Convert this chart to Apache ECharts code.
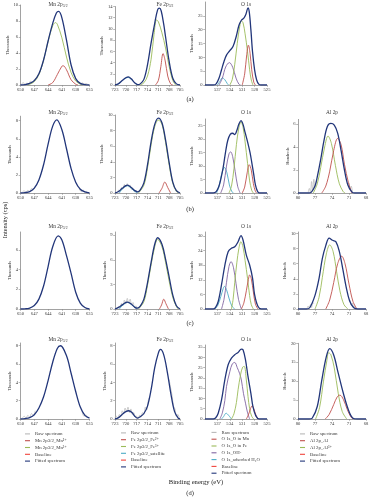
<!DOCTYPE html>
<html>
<head>
<meta charset="utf-8">
<script src="https://cdn.jsdelivr.net/npm/echarts@6/dist/echarts.min.js"></script>
<style>
  html, body { margin: 0; padding: 0; background: #fff; }
  #chart { width: 375px; height: 500px; }
</style>
</head>
<body>
<div id="chart"></div>
<script>
var FONT = '"Liberation Serif", "DejaVu Serif", serif';

// x tick labels (binding energy, eV)
var mnTicks = [650, 647, 644, 641, 638, 635];
var feTicks = [723, 720, 717, 714, 711, 708, 705];
var oTicks = [537, 534, 531, 528, 525];
var alTicks = [80, 77, 74, 71, 68];

// y tick labels per panel
var yMnA = [0, 2, 4, 6, 8, 10], yFeA = [0, 2, 4, 6, 8, 10, 12, 14], yOA = [0, 5, 10, 15, 20, 25];
var yMnB = [0, 2, 4, 6, 8], yFeB = [0, 2, 4, 6, 8, 10], yOB = [0, 5, 10, 15, 20, 25], yAlB = [0, 2, 4, 6];
var yMnC = [0, 2, 4, 6], yFeC = [0, 3, 6, 9], yOC = [0, 6, 12, 18, 24, 30], yAlC = [0, 2, 4, 6, 8, 10];
var yMnD = [0, 2, 4, 6, 8], yFeD = [0, 2, 4, 6, 8], yOD = [0, 5, 10, 15, 20, 25, 30, 35], yAlD = [0, 5, 10, 15, 20];

// ---- (a) ----
var mnA_raw = [[649.8,0.1],[649.4,0.3],[649,0.05],[648.6,0.25],[648.2,0.1],[647.8,0.5],[647.4,0.3],[647,0.7],[646.6,0.8],[646.5,'-'],[637.4,0.5],[637,0.1],[636.6,0.3],[636.2,0.05],[635.8,0.2],[635.4,0.1]];
var mnA_fit = [[650,0],[649,0.05],[648,0.2],[647,0.55],[646,1.4],[645,3.1],[644,5.5],[643,7.7],[642.2,9.0],[641.7,9.2],[641,8.4],[640,5.6],[639,2.5],[638,0.8],[637,0.2],[636,0.05],[635,0]];
var mnA_mn3 = [[648.5,0],[648,0.1],[647,0.42],[646,1.3],[645,3.05],[644,5.45],[643,7.4],[642.4,7.8],[642,7.6],[641,5.9],[640,3.5],[639,1.55],[638,0.5],[637,0.1],[636.5,0]];
var mnA_mn2 = [[644,0],[643,0.3],[642,1.3],[641,2.35],[640.7,2.4],[640,1.9],[639,0.65],[638,0.1],[637.5,0]];

var feA_fit = [[723,0],[722,0.25],[721,0.8],[720,1.3],[719.3,1.45],[718.5,1.1],[717.5,0.35],[716.7,0.05],[716,0.2],[715,1.0],[714,3.6],[713,7.5],[712,11.0],[711.2,13.4],[710.7,13.7],[710.2,13.2],[709.5,10.8],[709,8.6],[708,4.2],[707,1.2],[706,0.2],[705,0]];
var feA_fe3 = [[716,0],[715,0.4],[714,1.6],[713,4.6],[712.2,9.0],[711.5,11.6],[711,11.3],[710,9.3],[709,6.6],[708,3.3],[707,0.8],[706.2,0]];
var feA_fe2 = [[711.8,0],[711,0.8],[710.3,3.3],[709.7,5.6],[709.1,4.3],[708.4,1.6],[707.6,0.2],[707,0]];
var feA_sat = [[722.5,0],[721.5,0.45],[720.5,1.05],[719.4,1.35],[718.4,0.95],[717.4,0.3],[716.6,0]];

var oA_fit = [[540,0],[538,0],[537.3,0.4],[536.6,2.5],[536,5.5],[535.4,8.5],[534.8,10.8],[534,12.4],[533.2,14.0],[532.4,17.8],[531.8,21.5],[531.2,23.4],[530.6,24.2],[530.1,25.6],[529.6,27.9],[529.3,26.5],[528.9,20],[528.5,12],[528,5.5],[527.5,1.8],[527,0.3],[526.5,0],[525,0]];
var oA_feO = [[534,0],[533.4,2],[532.8,7.5],[532.2,15],[531.6,21.2],[531.2,23.2],[530.8,22.5],[530.3,18.5],[529.7,12],[529.2,5.5],[528.8,1.8],[528.4,0]];
var oA_mnO = [[531,0],[530.4,4],[529.9,11],[529.5,14.4],[529.1,11.5],[528.7,5.5],[528.2,1],[527.8,0]];
var oA_oh = [[536.6,0],[535.8,2.5],[535,6.5],[534.1,8.1],[533.3,6.4],[532.5,2.5],[531.8,0.3],[531.4,0]];
var oA_h2o = [[537,0],[536.4,1.3],[535.8,2.6],[535.2,1.9],[534.6,0.5],[534.3,0]];

// ---- (b) ----
var mnB_raw = [[649.6,0.1],[649.2,0.25],[648.8,0.05],[648.4,0.3],[648,0.15],[647.6,0.5],[647.2,0.35],[646.8,0.75],[646.5,'-'],[637.2,0.5],[636.8,0.15],[636.4,0.35],[636,0.05],[635.6,0.2]];
var mnB_fit = [[650,0],[649,0.04],[648,0.16],[647,0.55],[646,1.45],[645,3.1],[644,5.4],[643,7.4],[642.1,8.1],[641,7.0],[640,4.9],[639,2.7],[638,1.2],[637,0.42],[636,0.12],[635,0]];

var feB_raw = [[722.4,0.1],[722,0.35],[721.6,0.2],[721.2,0.7],[720.8,0.5],[720.4,1.1],[720,0.75],[719.6,1.2],[719.2,0.8],[718.8,1.0],[718.4,0.45],[718,0.6],[717.6,0.15],[717.2,0.35],[716.8,0.05]];
var feB_fit = [[723,0],[722,0.2],[721,0.6],[720,0.95],[719.5,1.0],[718.5,0.7],[717.5,0.3],[716.7,0.15],[716,0.4],[715,1.3],[714,3.6],[713,6.6],[712,8.8],[711,9.6],[710,9.0],[709,6.8],[708,3.9],[707,1.4],[706,0.3],[705,0]];
var feB_fe3 = [[716.5,0],[715,1.0],[714,3.2],[713,6.2],[712,8.5],[711,9.35],[710,8.8],[709,6.5],[708,3.6],[707,1.25],[706,0.2],[705.5,0]];
var feB_fe2 = [[710.8,0],[710,0.6],[709.2,1.4],[708.4,0.7],[707.6,0]];
var feB_sat = [[721.8,0],[721,0.5],[720,0.88],[719.5,0.92],[718.5,0.6],[717.5,0.2],[716.8,0]];

var oB_fit = [[540,0],[538,0],[537.3,0.5],[536.7,2.2],[536.2,5],[535.6,9.5],[535,15.5],[534.5,19.5],[533.9,21.8],[533.3,22.2],[532.8,21.7],[532.3,23.2],[531.8,25.6],[531.3,26.9],[530.8,25.5],[530.3,22.5],[529.7,19],[529.1,15],[528.7,11.5],[528.2,6.8],[527.8,3],[527.3,0.6],[526.8,0],[525,0]];
var oB_feO = [[534.2,0],[533.6,2.5],[533,9],[532.4,18],[531.8,24.3],[531.3,26.4],[530.8,24.5],[530.3,19],[529.7,11],[529.2,4.5],[528.7,1],[528.3,0]];
var oB_mnO = [[531,0],[530.4,2.2],[529.8,7.5],[529.3,10.5],[528.8,8.5],[528.3,3.5],[527.8,0.6],[527.5,0]];
var oB_oh = [[536.2,0],[535.5,3],[534.8,10],[534.2,14.5],[533.8,15.3],[533.3,13.5],[532.7,8],[532.1,2.5],[531.5,0]];
var oB_h2o = [[537.2,0],[536.6,2.5],[536,6.8],[535.3,9.5],[534.7,7.5],[534.1,3],[533.5,0.5],[533.1,0]];

var alB_raw = [[78.2,0.05],[78,0.4],[77.8,0.05],[77.6,1.0],[77.4,0.2],[77.2,1.2],[77,0.5],[76.8,1.0],[76.6,'-'],[71,0.9],[70.8,0.3],[70.6,0.6],[70.4,0.1]];
var alB_fit = [[80,0],[78,0],[77.6,0.1],[77,0.6],[76.6,1.4],[76,2.9],[75.4,4.6],[74.8,5.8],[74.2,6.05],[73.6,5.9],[73,5.2],[72.4,3.7],[71.8,2.0],[71.2,0.7],[70.5,0.1],[70,0],[68,0]];
var alB_al3 = [[77.3,0],[76.6,0.8],[76,2.2],[75.3,4.0],[74.7,4.95],[74.1,4.3],[73.4,2.4],[72.7,0.8],[72,0.1],[71.7,0]];
var alB_al = [[75.8,0],[75.1,0.6],[74.4,1.9],[73.7,3.7],[73,4.75],[72.4,4.2],[71.8,2.5],[71.1,0.9],[70.5,0]];

// ---- (c) ----
var mnC_fit = [[650,0],[649,0.02],[648,0.1],[647,0.35],[646,1.0],[645,2.3],[644,4.3],[643,6.3],[641.8,7.4],[641,7.0],[640,5.4],[639,3.6],[638,1.7],[637,0.6],[636,0.15],[635,0]];

var feC_raw = [[722.5,0.1],[722,0.3],[721.6,0.15],[721.2,0.7],[720.8,0.4],[720.4,1.1],[720,0.6],[719.6,1.3],[719.2,0.7],[718.8,1.2],[718.4,0.5],[718,0.8],[717.6,0.2],[717.2,0.4],[716.8,0.05]];
var feC_fit = [[723,0],[722,0.2],[721,0.5],[720,0.8],[719.5,0.85],[718.5,0.6],[717.5,0.2],[716.8,0.1],[716,0.35],[715,1.2],[714,3.2],[713,5.7],[712,7.9],[711.2,8.7],[710,7.9],[709,6.1],[708,3.9],[707,1.7],[706,0.4],[705,0]];
var feC_fe3 = [[716.5,0],[715,0.9],[714,2.9],[713,5.4],[712,7.6],[711.2,8.5],[710,7.6],[709,5.7],[708,3.4],[707,1.4],[706,0.3],[705.5,0]];
var feC_fe2 = [[710.7,0],[710.1,0.5],[709.5,1.2],[708.9,0.65],[708.2,0]];
var feC_sat = [[721.8,0],[721,0.4],[720,0.75],[719.5,0.8],[718.5,0.55],[717.5,0.2],[716.8,0]];

var oC_fit = [[540,0],[538,0],[537.4,0.8],[536.8,3.1],[536,10],[535.2,18],[534.4,23.6],[533.6,25],[532.8,25.6],[532,27.7],[531.3,30.2],[530.8,28.4],[530,22.2],[529.2,18.1],[528.5,12.7],[528,5.9],[527.2,1.1],[526.4,0],[525,0]];
var oC_feO = [[533.6,0],[533.2,4],[532.8,11],[532.3,19],[531.8,25],[531.3,27.7],[530.8,25.5],[530.3,20],[529.7,12.5],[529.2,5.5],[528.8,1.8],[528.3,0]];
var oC_mnO = [[531.2,0],[530.6,2.5],[530,7.5],[529.5,12.2],[529.2,14],[528.8,12.5],[528.3,7],[527.8,2],[527.2,0]];
var oC_oh = [[536,0],[535.4,4],[534.8,11],[534.2,17.5],[533.7,19.5],[533.1,17],[532.5,10.5],[531.9,4],[531.2,0]];
var oC_h2o = [[537.6,0],[536.9,1.5],[536.2,5],[535.6,8.4],[535.3,9.3],[534.8,8],[534.2,4.5],[533.5,1.2],[532.8,0]];

var alC_raw = [[78.4,0.05],[78.2,0.4],[78,0.1],[77.8,0.6],[77.6,0.2],[77.4,0.9],[77.2,0.7],[77,'-'],[70.8,1.2],[70.6,0.5],[70.4,0.8],[70.2,0.2],[70,0.4],[69.8,0.05]];
var alC_fit = [[80,0],[78.5,0],[77.9,0.2],[77,1.8],[76.3,4],[75.7,6.7],[75.1,8.4],[74.5,9.4],[73.9,9.1],[73.3,8.9],[72.7,7.6],[72.1,5.3],[71.5,2.9],[70.9,1.1],[70.2,0.2],[69.5,0],[68,0]];
var alC_al3 = [[77,0],[76.3,1.5],[75.7,4.2],[75,7.3],[74.4,8.5],[73.8,7.6],[73.2,5],[72.6,2.4],[71.9,0.6],[71.2,0]];
var alC_al = [[75.1,0],[74.4,1.2],[73.7,3.5],[73,6],[72.3,7.0],[71.7,6],[71,3.3],[70.3,1.0],[69.6,0]];

// ---- (d) ----
var mnD_raw = [[649.6,0.1],[649.2,0.3],[648.8,0.1],[648.4,0.4],[648,0.2],[647.6,0.6],[647.2,0.4],[646.8,0.9],[646.5,'-'],[636.6,0.7],[636.2,0.3],[635.8,0.45],[635.4,0.1]];
var mnD_fit = [[650,0],[649,0.05],[648,0.16],[647,0.47],[646,1.2],[645,2.4],[644,4.2],[643,6.2],[642,7.7],[641.3,8.0],[640,6.9],[639,5.0],[638,3.0],[637,1.3],[636,0.4],[635,0.1]];

var feD_raw = [[723,0.1],[722.6,0.3],[722.2,0.1],[721.8,0.5],[721.4,0.3],[721,0.9],[720.6,0.6],[720.2,1.2],[719.8,0.8],[719.4,1.3],[719,0.7],[718.6,1.1],[718.2,0.5],[717.8,0.7],[717.4,0.2],[717,0.3],[716.6,0.05],[716.2,0.4],[715.8,0.2],[715.4,0.7],[715,0.5],[714.6,1.3],[714.2,1.0],[713.8,2.0],[713.4,2.4],[713,'-'],[708,4.3],[707.6,3.4],[707.2,2.6],[706.8,1.4],[706.4,1.1],[706,0.3],[705.6,0.5],[705.2,0.1]];
var feD_fit = [[723,0],[722,0.15],[721,0.5],[720,0.8],[719.2,0.9],[718.3,0.7],[717.5,0.3],[716.8,0.1],[716,0.25],[715,0.6],[714,1.4],[713,3.2],[712,5.6],[711,7.2],[710.4,7.6],[709.5,7.0],[708.5,5.1],[707.5,2.7],[706.5,0.8],[705.5,0.1],[705,0]];

var oD_fit = [[540,0],[538,0],[537.4,0.6],[536.8,2.8],[536,9.3],[535.2,19],[534.4,26.4],[533.6,29.6],[532.8,31.3],[532,32.4],[531.2,34],[530.8,33.7],[530.2,28.8],[529.6,20.7],[528.9,12.5],[528.4,6],[527.7,1.5],[526.9,0],[525,0]];
var oD_feO = [[533.6,0],[533,2.5],[532.4,8],[532,14.2],[531.4,21.5],[530.9,25.2],[530.5,25.6],[530,19],[529.6,11],[529.2,5],[528.7,1.3],[528.2,0]];
var oD_mnO = [[530,0],[529.5,2],[529,5],[528.6,6.4],[528.2,5],[527.7,2],[527.2,0]];
var oD_oh = [[536.4,0],[535.8,3],[535.2,9],[534.8,15.8],[534,23],[533.4,26.8],[532.8,27.5],[532.2,25],[531.6,22],[531.2,19],[530.7,12.5],[530.2,7.7],[529.7,3],[529.2,0]];
var oD_h2o = [[536,0],[535.5,1.2],[534.9,2.8],[534.3,1.8],[533.6,0]];

var alD_fit = [[80,0],[78,0],[77.5,0.2],[76.6,3.3],[75.8,10.3],[75,16.5],[74.4,18.6],[73.7,16.9],[72.9,12.1],[72,6.8],[71.1,2.4],[70.3,0.2],[69.5,0],[68,0]];
var alD_al3 = [[76.9,0],[76.2,3],[75.5,10],[74.9,15.5],[74.6,17.5],[74.2,17],[73.6,13.5],[72.9,6.8],[72.2,2],[71.4,0]];
var alD_al = [[75.2,0],[74.5,1.2],[73.7,3.8],[73.1,5.8],[72.6,6.3],[72,5.2],[71.3,2.5],[70.7,0.6],[70.3,0]];

// ---- layout ----
var COLOR = { raw: '#b8b8b8', red: '#c0504d', green: '#9bbb59', purple: '#8064a2', cyan: '#4bacc6', base: '#f0443c', fit: '#22367a' };
var WIDTH = { raw: 0.7, red: 0.9, green: 0.9, purple: 0.9, cyan: 0.9, base: 0.9, fit: 1.3 };

var cols = {
  mn: { left: 20.5, right: 89.5, min: 635, max: 650, ticks: mnTicks, title: 'Mn 2p', sub: '3/2', tx: 58, unit: 'Thousands',
        names: { raw: 'Raw spectrum', red: 'Mn 2p3/2_Mn\u00b2\u207a', green: 'Mn 2p3/2_Mn\u00b3\u207a', base: 'Baseline', fit: 'Fitted spectrum' },
        order: ['raw', 'red', 'green', 'base', 'fit'], lx: 25, ly: 430.5 },
  fe: { left: 115, right: 180, min: 705, max: 723, ticks: feTicks, title: 'Fe 2p', sub: '3/2', tx: 165, unit: 'Thousands',
        names: { raw: 'Raw spectrum', red: 'Fe 2p3/2_Fe\u00b2\u207a', green: 'Fe 2p3/2_Fe\u00b3\u207a', cyan: 'Fe 2p3/2_satellite', base: 'Baseline', fit: 'Fitted spectrum' },
        order: ['raw', 'red', 'green', 'cyan', 'base', 'fit'], lx: 121, ly: 429.5 },
  o:  { left: 205, right: 267, min: 525, max: 540, ticks: oTicks, title: 'O 1s', sub: '', tx: 246, unit: 'Thousands',
        names: { raw: 'Raw spectrum', red: 'O 1s_O in Mn', green: 'O 1s_O in Fe', purple: 'O 1s_OH-', cyan: 'O 1s_adsorbed H\u2082O', base: 'Baseline', fit: 'Fitted spectrum' },
        order: ['raw', 'red', 'green', 'purple', 'cyan', 'base', 'fit'], lx: 211.5, ly: 429 },
  al: { left: 298, right: 366, min: 68, max: 80, ticks: alTicks, title: 'Al 2p', sub: '', tx: 332, unit: 'Hundreds',
        names: { raw: 'Raw spectrum', red: 'Al 2p_Al', green: 'Al 2p_Al\u00b3\u207a', base: 'Baseline', fit: 'Fitted spectrum' },
        order: ['raw', 'red', 'green', 'base', 'fit'], lx: 300, ly: 430.5 }
};
var rows = { a: { zero: 85, ty: 4.5, label: '(a)', ly: 99 }, b: { zero: 193, ty: 113, label: '(b)', ly: 209 },
             c: { zero: 309, ty: 227, label: '(c)', ly: 323 }, d: { zero: 419, ty: 340, label: '(d)', ly: 493 } };

var panels = [
  { row: 'a', col: 'mn', top: 5, ymax: 10, yt: yMnA, curves: [[mnA_raw, 'raw'], [mnA_mn3, 'green'], [mnA_mn2, 'red'], [mnA_fit, 'fit']] },
  { row: 'a', col: 'fe', top: 6.5, ymax: 14, yt: yFeA, curves: [[feA_sat, 'cyan'], [feA_fe3, 'green'], [feA_fe2, 'red'], [feA_fit, 'fit']] },
  { row: 'a', col: 'o', top: 2, ymax: 30, yt: yOA, curves: [[oA_h2o, 'cyan'], [oA_oh, 'purple'], [oA_feO, 'green'], [oA_mnO, 'red'], [oA_fit, 'fit']] },
  { row: 'b', col: 'mn', top: 116.2, ymax: 8.5, yt: yMnB, curves: [[mnB_raw, 'raw'], [mnB_fit, 'fit']] },
  { row: 'b', col: 'fe', top: 115, ymax: 10, yt: yFeB, curves: [[feB_raw, 'raw'], [feB_sat, 'cyan'], [feB_fe3, 'green'], [feB_fe2, 'red'], [feB_fit, 'fit']] },
  { row: 'b', col: 'o', top: 119, ymax: 27.5, yt: yOB, curves: [[oB_h2o, 'cyan'], [oB_oh, 'purple'], [oB_feO, 'green'], [oB_mnO, 'red'], [oB_fit, 'fit']] },
  { row: 'b', col: 'al', top: 119.4, ymax: 6.4, yt: yAlB, curves: [[alB_raw, 'raw'], [alB_al3, 'green'], [alB_al, 'red'], [alB_fit, 'fit']] },
  { row: 'c', col: 'mn', top: 232, ymax: 7.8, yt: yMnC, curves: [[mnC_fit, 'fit']] },
  { row: 'c', col: 'fe', top: 232, ymax: 9.4, yt: yFeC, curves: [[feC_raw, 'raw'], [feC_sat, 'cyan'], [feC_fe3, 'green'], [feC_fe2, 'red'], [feC_fit, 'fit']] },
  { row: 'c', col: 'o', top: 232, ymax: 31.7, yt: yOC, curves: [[oC_h2o, 'cyan'], [oC_oh, 'purple'], [oC_feO, 'green'], [oC_mnO, 'red'], [oC_fit, 'fit']] },
  { row: 'c', col: 'al', top: 232, ymax: 10.2, yt: yAlC, curves: [[alC_raw, 'raw'], [alC_al3, 'green'], [alC_al, 'red'], [alC_fit, 'fit']] },
  { row: 'd', col: 'mn', top: 343, ymax: 8.3, yt: yMnD, curves: [[mnD_raw, 'raw'], [[], 'red'], [[], 'green'], [[], 'base'], [mnD_fit, 'fit']] },
  { row: 'd', col: 'fe', top: 343, ymax: 8.3, yt: yFeD, curves: [[feD_raw, 'raw'], [[], 'red'], [[], 'green'], [[], 'cyan'], [[], 'base'], [feD_fit, 'fit']] },
  { row: 'd', col: 'o', top: 345, ymax: 36, yt: yOD, curves: [[[], 'raw'], [oD_h2o, 'cyan'], [oD_oh, 'purple'], [oD_feO, 'green'], [oD_mnO, 'red'], [[], 'base'], [oD_fit, 'fit']] },
  { row: 'd', col: 'al', top: 343.3, ymax: 20, yt: yAlD, curves: [[[], 'raw'], [alD_al3, 'green'], [alD_al, 'red'], [[], 'base'], [alD_fit, 'fit']] }
];

var axisGray = '#8a8a8a';
var textGray = '#3a3a3a';
var grids = [], xAxes = [], yAxes = [], series = [], legends = [], graphics = [];

panels.forEach(function (p, i) {
  var c = cols[p.col], r = rows[p.row];
  grids.push({ left: c.left, top: p.top, width: c.right - c.left, height: r.zero - p.top, outerBoundsMode: 'none' });
  xAxes.push({
    type: 'value', gridIndex: i, inverse: true, min: c.min, max: c.max,
    axisLine: { onZero: false, lineStyle: { color: axisGray, width: 0.8 } },
    axisTick: { show: true, length: 1.8, customValues: c.ticks, lineStyle: { color: axisGray, width: 0.6 } },
    axisLabel: { customValues: c.ticks, fontSize: 4.6, fontFamily: FONT, color: textGray, margin: 2.2 },
    splitLine: { show: false }
  });
  yAxes.push({
    type: 'value', gridIndex: i, min: 0, max: p.ymax,
    name: c.unit, nameLocation: 'middle', nameGap: 7, nameRotate: 90,
    nameTextStyle: { fontSize: 4.4, fontFamily: FONT, color: textGray },
    axisLine: { show: true, lineStyle: { color: axisGray, width: 0.8 } },
    axisTick: { show: true, length: 1.8, customValues: p.yt, lineStyle: { color: axisGray, width: 0.6 } },
    axisLabel: { customValues: p.yt, fontSize: 4.6, fontFamily: FONT, color: textGray, margin: 2.4 },
    splitLine: { show: false }
  });
  p.curves.forEach(function (cv) {
    var kind = cv[1];
    series.push({
      type: 'line', name: c.names[kind], xAxisIndex: i, yAxisIndex: i, data: cv[0],
      smooth: 0.35, symbol: 'none', showSymbol: false, silent: true,
      z: kind === 'fit' ? 5 : (kind === 'raw' ? 2 : 3),
      lineStyle: { color: COLOR[kind], width: WIDTH[kind] },
      itemStyle: { color: COLOR[kind] }
    });
  });
  if (p.row === 'd') {
    legends.push({
      orient: 'vertical', left: c.lx, top: c.ly, padding: 0, itemGap: 0,
      icon: 'rect', itemWidth: 5, itemHeight: 1.1, selectedMode: false,
      textStyle: { fontSize: 4.8, lineHeight: 6.8, fontFamily: FONT, color: textGray },
      data: c.order.map(function (k) { return c.names[k]; })
    });
  }
});

// panel titles
Object.keys(cols).forEach(function (ck) {
  var c = cols[ck];
  Object.keys(rows).forEach(function (rk) {
    if (rk === 'a' && ck === 'al') return;
    graphics.push({
      type: 'text', x: c.tx, y: rows[rk].ty, silent: true,
      style: {
        text: '{m|' + c.title + '}' + (c.sub ? '{s|' + c.sub + '}' : ''),
        align: 'center', verticalAlign: 'middle',
        rich: {
          m: { fontSize: 5.4, fontFamily: FONT, fill: textGray, lineHeight: 6.5 },
          s: { fontSize: 3.7, fontFamily: FONT, fill: textGray, lineHeight: 6.5, verticalAlign: 'bottom' }
        }
      }
    });
  });
});
Object.keys(rows).forEach(function (rk) {
  graphics.push({ type: 'text', x: 190, y: rows[rk].ly, silent: true,
    style: { text: rows[rk].label, fontSize: 6.5, fontFamily: FONT, fill: '#222', align: 'center', verticalAlign: 'middle' } });
});
graphics.push({ type: 'text', x: 196, y: 482, silent: true,
  style: { text: 'Binding energy (eV)', fontSize: 6.6, fontFamily: FONT, fill: '#222', align: 'center', verticalAlign: 'middle' } });
graphics.push({ type: 'text', x: 5, y: 220, rotation: Math.PI / 2, silent: true,
  style: { text: 'Intensity (cps)', fontSize: 6.4, fontFamily: FONT, fill: '#222', align: 'center', verticalAlign: 'middle' } });

var chart = echarts.init(document.getElementById('chart'), null, { renderer: 'canvas' });
chart.setOption({
  animation: false,
  backgroundColor: '#fff',
  grid: grids,
  xAxis: xAxes,
  yAxis: yAxes,
  legend: legends,
  series: series,
  graphic: graphics
});
</script>
</body>
</html>
